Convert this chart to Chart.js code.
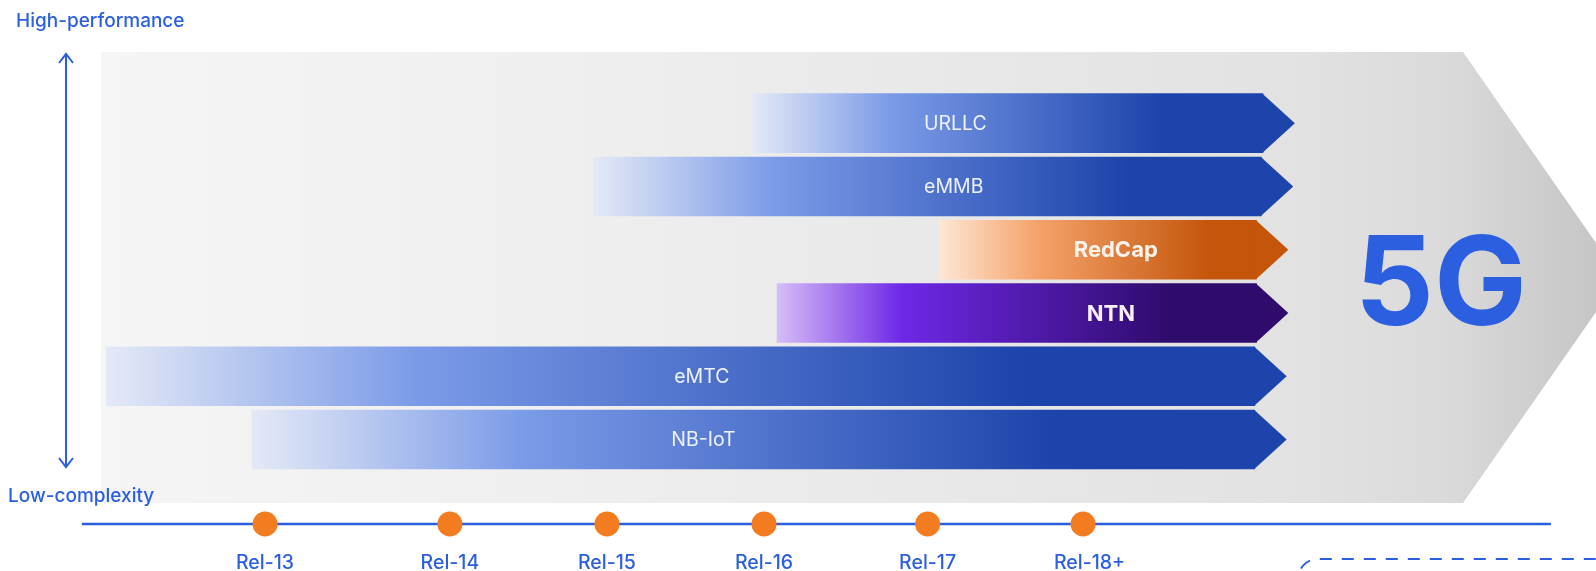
<!DOCTYPE html>
<html lang="en">
<head>
<meta charset="UTF-8">
<title>5G IoT features by release</title>
<script src="https://cdn.jsdelivr.net/npm/chart.js@4"></script>
<style>
    body {
        margin: 0;
        background: #ffffff;
    }
    #wrap {
        width: 1596px;
        height: 571px;
        position: relative;
    }
</style>
</head>
<body>
<div id="wrap"><canvas id="relChart"></canvas></div>

<script>
// one bar per feature, top to bottom; values are on the release axis (13 = Rel-13)
const features = ['URLLC', 'eMMB', 'RedCap', 'NTN', 'eMTC', 'NB-IoT'];
const featureStart = [15.98, 15.01, 17.12, 16.13, 12.03, 12.92];
const featureEnd = [19.10, 19.09, 19.06, 19.06, 19.05, 19.05];
// where the feature name sits along its bar
const featureLabelAt = [17.22, 17.21, 18.20, 18.17, 15.67, 15.68];

// timeline below the bars
const releases = ['Rel-13', 'Rel-14', 'Rel-15', 'Rel-16', 'Rel-17', 'Rel-18+'];
const releasePos = [13, 14.13, 15.09, 16.05, 17.05, 18];

const BLUE = '#2b5fe0';
const TIMELINE_ROW = 6.336;

const blueStops = [[0, '#e4e9f6'], [0.27, '#7b9be8'], [0.8, '#1c44ab'], [1, '#1c44ab']];
const orangeStops = [[0, '#fee7d6'], [0.3, '#f5a46d'], [0.85, '#c4550b'], [1, '#c4550b']];
const purpleStops = [[0, '#d6bdf7'], [0.26, '#6e28e6'], [0.82, '#2f0b6c'], [1, '#2f0b6c']];
const barStops = [blueStops, blueStops, orangeStops, purpleStops, blueStops, blueStops];
const labelFont = ['400 19.5px Inter', '400 19.5px Inter', '700 22px Inter', '700 22px Inter', '400 19.5px Inter', '400 19.5px Inter'];
const labelColor = ['#eef2fc', '#eef2fc', '#fff4ec', '#f6f0ff', '#eef2fc', '#eef2fc'];

function barFill(c) {
    let i = c.dataIndex;
    let xs = c.chart.scales.x;
    if (i === undefined || !xs) return '#1c44ab';
    let x0 = xs.getPixelForValue(featureStart[i]);
    let x1 = xs.getPixelForValue(featureEnd[i]);
    if (!isFinite(x0) || !isFinite(x1)) return '#1c44ab';
    let g = c.chart.ctx.createLinearGradient(x0, 0, x1, 0);
    barStops[i].forEach(function(s) { g.addColorStop(s[0], s[1]); });
    return g;
}

function arrowHead(ctx, x, y, dir) {
    ctx.beginPath();
    ctx.moveTo(x - 7, y + dir * 9);
    ctx.lineTo(x, y);
    ctx.lineTo(x + 7, y + dir * 9);
    ctx.stroke();
}

const decor = {
    id: 'decor',
    beforeDatasetsDraw(chart) {
        let ctx = chart.ctx;
        let xs = chart.scales.x;
        let ys = chart.scales.y;
        ctx.save();

        // big grey arrow behind everything
        let g = ctx.createLinearGradient(101, 0, 1596, 0);
        g.addColorStop(0, '#f5f5f5');
        g.addColorStop(0.35, '#eeeeee');
        g.addColorStop(0.8, '#e2e2e2');
        g.addColorStop(0.9, '#dadada');
        g.addColorStop(1, '#c6c6c6');
        ctx.fillStyle = g;
        ctx.beginPath();
        ctx.moveTo(101, 52);
        ctx.lineTo(1463, 52);
        ctx.lineTo(1620, 277.5);
        ctx.lineTo(1463, 503);
        ctx.lineTo(101, 503);
        ctx.closePath();
        ctx.fill();

        ctx.fillStyle = BLUE;
        ctx.font = '700 124px Inter';
        ctx.textAlign = 'center';
        ctx.textBaseline = 'alphabetic';
        ctx.fillText('5G', 1441, 325);

        // vertical axis arrow
        ctx.strokeStyle = BLUE;
        ctx.lineWidth = 2;
        ctx.beginPath();
        ctx.moveTo(66, 54);
        ctx.lineTo(66, 467);
        ctx.stroke();
        arrowHead(ctx, 66, 54, 1);
        arrowHead(ctx, 66, 467, -1);

        ctx.font = '500 19px Inter';
        ctx.textAlign = 'left';
        ctx.fillText('High-performance', 16, 26.5);
        ctx.fillText('Low-complexity', 8, 501.5);

        // timeline
        let ty = ys.getPixelForValue(TIMELINE_ROW);
        ctx.lineWidth = 2.5;
        ctx.beginPath();
        ctx.moveTo(xs.getPixelForValue(11.88), ty);
        ctx.lineTo(xs.getPixelForValue(20.86), ty);
        ctx.stroke();

        ctx.font = '500 19.5px Inter';
        ctx.textAlign = 'left';
        releases.forEach(function(r, i) {
            let core = r.replace('+', '');
            let w = ctx.measureText(core).width;
            ctx.fillText(r, xs.getPixelForValue(releasePos[i]) - w / 2, 569);
        });

        // dashed box peeking in at the bottom right
        ctx.setLineDash([12, 10]);
        ctx.lineWidth = 2;
        ctx.beginPath();
        ctx.moveTo(1298, 590);
        ctx.arcTo(1298, 559, 1330, 559, 20);
        ctx.lineTo(1600, 559);
        ctx.stroke();
        ctx.restore();
    },
    afterDatasetsDraw(chart) {
        let ctx = chart.ctx;
        let xs = chart.scales.x;
        let meta = chart.getDatasetMeta(0);
        ctx.save();
        meta.data.forEach(function(bar, i) {
            let right = Math.max(bar.x, bar.base);
            let h = bar.height;
            let stops = barStops[i];
            // arrow tip
            ctx.fillStyle = stops[stops.length - 1][1];
            ctx.beginPath();
            ctx.moveTo(right - 0.5, bar.y - h / 2);
            ctx.lineTo(right + h * 0.54, bar.y);
            ctx.lineTo(right - 0.5, bar.y + h / 2);
            ctx.closePath();
            ctx.fill();

            ctx.fillStyle = labelColor[i];
            ctx.font = labelFont[i];
            ctx.textAlign = 'center';
            ctx.textBaseline = 'middle';
            ctx.fillText(features[i], xs.getPixelForValue(featureLabelAt[i]), bar.y + 1);
        });
        ctx.restore();
    }
};

let relChart = new Chart(document.getElementById('relChart'), {
    type: 'bar',
    data: {
        datasets: [{
            type: 'bar',
            indexAxis: 'y',
            data: features.map(function(f, i) {
                return { y: i, x: [featureStart[i], featureEnd[i]] };
            }),
            backgroundColor: barFill,
            borderWidth: 0,
            barThickness: 59,
            order: 2
        }, {
            type: 'scatter',
            data: releasePos.map(function(p) {
                return { x: p, y: TIMELINE_ROW };
            }),
            backgroundColor: '#f47c20',
            pointRadius: 12.5,
            pointBorderWidth: 0,
            borderWidth: 0,
            order: 1
        }]
    },
    options: {
        responsive: true,
        maintainAspectRatio: false,
        animation: false,
        events: [],
        layout: { padding: 0, autoPadding: false },
        plugins: {
            legend: { display: false },
            tooltip: { enabled: false }
        },
        scales: {
            x: {
                type: 'linear',
                display: false,
                offset: false,
                min: 11.38,
                max: 21.1355
            },
            y: {
                type: 'linear',
                display: false,
                offset: false,
                reverse: true,
                min: -1.9475,
                max: 7.0787
            }
        }
    },
    plugins: [decor]
});
</script>
</body>
</html>
